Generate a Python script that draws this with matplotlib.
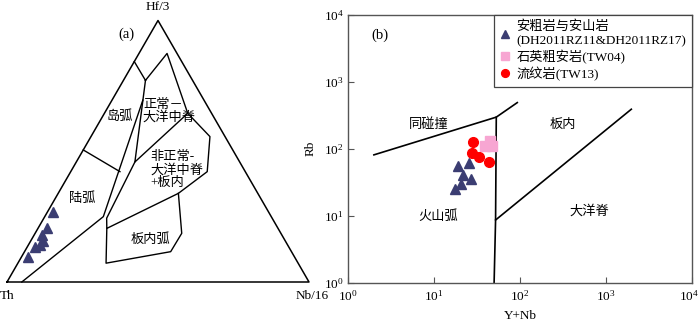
import numpy as np
import matplotlib
matplotlib.use('Agg')
import matplotlib.pyplot as plt
from matplotlib.ticker import LogLocator, LogFormatterMathtext, NullLocator, FuncFormatter

plt.rcParams['font.family'] = ['Liberation Serif', 'Noto Sans CJK SC']
plt.rcParams['mathtext.fontset'] = 'stix'

# ---------------- (a) Th - Hf/3 - Nb/16 (percent: Th, Hf/3, Nb/16) ----------------
island_top = [(15.7, 84.3, 0.0), (15.6, 77.1, 7.3)]
nmorb = [(15.6, 77.1, 7.3), (3.3, 87.4, 9.3), (7.9, 64.5, 27.6),
         (34.7, 45.9, 19.4), (15.6, 77.1, 7.3)]
arc_right = [(20.2, 69.6, 10.2), (55.6, 25.0, 19.4), (95.1, 0.0, 4.9)]
arc_split = [(49.5, 50.5, 0.0), (41.5, 42.2, 16.3)]
emorb = [(34.7, 45.9, 19.4), (54.8, 24.4, 20.8), (56.7, 20.5, 22.8),
         (26.3, 33.9, 39.8), (12.6, 42.2, 45.2), (5.0, 55.6, 39.4), (7.9, 64.5, 27.6)]
wpa = [(56.7, 20.5, 22.8), (63.6, 7.2, 29.2), (40.0, 11.6, 48.4),
       (32.8, 18.6, 48.5), (26.3, 33.9, 39.8)]

th_a = [71.3, 76.5, 79.3, 80.2, 81.9, 84.0, 88.4]
hf_a = [26.8, 20.7, 18.0, 15.5, 14.3, 13.4, 9.6]
nb_a = [1.9, 2.8, 2.7, 4.3, 3.8, 2.6, 2.1]

# ---------------- (b) Rb vs Y+Nb ----------------
syncolg_line = [(2, 81), (53, 297), (93, 490)]
vag_line = [(53, 297), (52, 8.6), (50, 1)]
org_line = [(52, 8.6), (1970, 390)]

ynb_and = [19.0, 25.3, 21.7, 26.7, 20.8, 17.7]
rb_and = [55.5, 60.9, 40.7, 35.5, 29.9, 25.2]
ynb_qt = [39.4, 44.4, 47.5]
rb_qt = [110.5, 129, 108.6]
ynb_rhy = [28.4, 27.8, 33.3, 43.5]
rb_rhy = [124.7, 86, 75.7, 64.4]

NAVY = '#3b3d72'
PINK = '#f7a6d2'
RED = '#ff0000'


def tern(pts):
    a = np.array(pts, dtype=float)
    s = a.sum(axis=1)
    hf = a[:, 1] / s
    nb = a[:, 2] / s
    return nb + hf / 2, hf * np.sqrt(3) / 2


fig = plt.figure(figsize=(7.0, 3.24), dpi=100)

# ---- panel a
ax1 = fig.add_axes([7 / 700, 42 / 324, 302 / 700, 261.5 / 324])
ax1.set_xlim(0, 1)
ax1.set_ylim(0, np.sqrt(3) / 2)
ax1.axis('off')

x, y = tern([(100, 0, 0), (0, 0, 100), (0, 100, 0), (100, 0, 0)])
ax1.plot(x, y, color='black', lw=1.1, clip_on=False)
for line in [island_top, nmorb, arc_right, arc_split, emorb, wpa]:
    x, y = tern(line)
    ax1.plot(x, y, color='black', lw=1.0, clip_on=False)

x, y = tern(list(zip(th_a, hf_a, nb_a)))
ax1.plot(x, y, '^', color=NAVY, ms=7, mec=NAVY, ls='none', clip_on=False)

fs = 9.5
ax1.text(0.374, 0.546, u'岛弧', fontsize=fs, ha='center', va='center')
ax1.text(0.450, 0.566, u'正常－\n大洋中脊', fontsize=fs, ha='left', va='center', linespacing=1.0)
ax1.text(0.476, 0.371, u'非正常-\n大洋中脊\n+板内', fontsize=fs, ha='left', va='center', linespacing=1.05)
ax1.text(0.248, 0.275, u'陆弧', fontsize=fs, ha='center', va='center')
ax1.text(0.474, 0.139, u'板内弧', fontsize=fs, ha='center', va='center')
ax1.text(0.394, 0.821, '(a)', fontsize=10.5, ha='center', va='center')
ax1.text(0.5, 0.912, 'Hf/3', fontsize=9.5, ha='center', va='center')
ax1.text(0.0, -0.046, 'Th', fontsize=9.5, ha='center', va='center')
ax1.text(1.01, -0.046, 'Nb/16', fontsize=9.5, ha='center', va='center')

# ---- panel b
ax2 = fig.add_axes([348 / 700, 41.5 / 324, 344 / 700, 267.5 / 324])
ax2.set_xscale('log')
ax2.set_yscale('log')
ax2.set_xlim(1, 1e4)
ax2.set_ylim(1, 1e4)
for sp in ax2.spines.values():
    sp.set_color('#555555')
    sp.set_linewidth(1.0)
ax2.xaxis.set_major_locator(LogLocator(base=10, numticks=5))
ax2.yaxis.set_major_locator(LogLocator(base=10, numticks=5))
ax2.xaxis.set_minor_locator(NullLocator())
ax2.yaxis.set_minor_locator(NullLocator())

# the 10^4 label of the x axis is drawn separately so it stays inside the figure
fmt = LogFormatterMathtext()
ax2.xaxis.set_major_formatter(FuncFormatter(lambda v, p: '' if v >= 1e4 else fmt(v, p)))
ax2.yaxis.set_major_formatter(LogFormatterMathtext())
ax2.tick_params(direction='in', length=4, width=0.8, color='#555555',
                labelsize=9.5)
ax2.tick_params(axis='x', pad=5)
ax2.tick_params(axis='y', pad=3)
ax2.annotate(r'$\mathdefault{10^{4}}$', xy=(1, 0), xycoords='axes fraction',
             xytext=(5, -5), textcoords='offset points', ha='right', va='top',
             fontsize=9.5)
ax2.set_xlabel('Y+Nb', fontsize=9.5, labelpad=4)
ax2.set_ylabel('Rb', fontsize=9.5, labelpad=5)

for line in [syncolg_line, vag_line, org_line]:
    xs, ys = zip(*line)
    ax2.plot(xs, ys, color='black', lw=1.2)

ax2.plot(ynb_and, rb_and, '^', color=NAVY, ms=7, ls='none',
         label=u'安粗岩与安山岩\n(DH2011RZ11&DH2011RZ17)')
ax2.plot(ynb_qt, rb_qt, 's', color=PINK, ms=6.5, ls='none',
         label=u'石英粗安岩(TW04)')
ax2.plot(ynb_rhy, rb_rhy, 'o', color=RED, ms=7, ls='none',
         label=u'流纹岩(TW13)')

ax2.text(8.75, 233, u'同碰撞', fontsize=fs, ha='center', va='center')
ax2.text(316, 228, u'板内', fontsize=fs, ha='center', va='center')
ax2.text(11.1, 9.5, u'火山弧', fontsize=fs, ha='center', va='center')
ax2.text(634, 11.5, u'大洋脊', fontsize=fs, ha='center', va='center')
ax2.text(0.094, 0.925, '(b)', fontsize=10.5, ha='center', va='center',
         transform=ax2.transAxes)

leg = ax2.legend(loc='upper right', bbox_to_anchor=(1, 1), borderaxespad=0,
                 fontsize=9.5, frameon=True, fancybox=False, framealpha=1,
                 edgecolor='#444444', handlelength=0.7, handletextpad=0.5,
                 labelspacing=0.2, borderpad=0.45, markerscale=0.8)
leg.get_frame().set_linewidth(0.9)

fig.savefig('out.png', dpi=100)
